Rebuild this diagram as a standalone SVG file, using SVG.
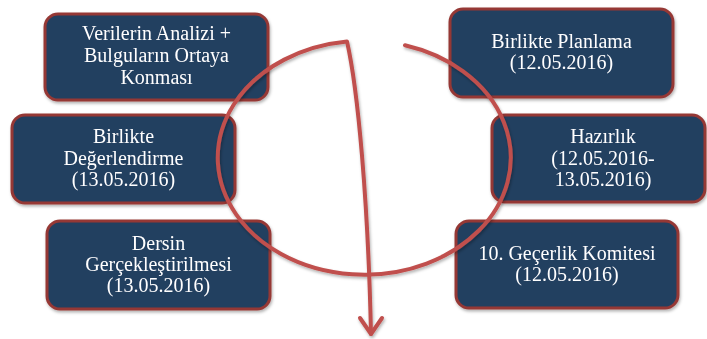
<svg xmlns="http://www.w3.org/2000/svg" width="707" height="339" viewBox="0 0 707 339">
  <defs>
    <filter id="shadow" x="-10%" y="-10%" width="120%" height="130%">
      <feDropShadow dx="1" dy="2" stdDeviation="1.5" flood-color="#000" flood-opacity="0.3"/>
    </filter>
    <style>
      .box { fill: #243F60; stroke: #953735; stroke-width: 3; }
      .label { fill: #FFFFFF; font-family: "Liberation Serif", "Times New Roman", serif; font-size: 20px; text-anchor: middle; }
      .cycle { fill: none; stroke: #C0504D; stroke-width: 4; stroke-linecap: round; stroke-linejoin: round; }
    </style>
  </defs>
  <rect width="707" height="339" fill="#FFFFFF"/>

  <g id="node-analiz" filter="url(#shadow)">
    <rect class="box" x="45" y="14" width="223" height="86" rx="13"/>
    <text class="label" x="156.5"><tspan x="156.5" y="40">Verilerin Analizi +</tspan><tspan x="156.5" y="62">Bulguların Ortaya</tspan><tspan x="156.5" y="84">Konması</tspan></text>
  </g>

  <g id="node-planlama" filter="url(#shadow)">
    <rect class="box" x="450" y="9" width="223" height="88" rx="13"/>
    <text class="label"><tspan x="561.5" y="48">Birlikte Planlama</tspan><tspan x="561.5" y="69">(12.05.2016)</tspan></text>
  </g>

  <g id="node-degerlendirme" filter="url(#shadow)">
    <rect class="box" x="12" y="115" width="223" height="88" rx="13"/>
    <text class="label"><tspan x="123.5" y="143">Birlikte</tspan><tspan x="123.5" y="164.5">Değerlendirme</tspan><tspan x="123.5" y="186">(13.05.2016)</tspan></text>
  </g>

  <g id="node-hazirlik" filter="url(#shadow)">
    <rect class="box" x="492" y="115" width="213" height="87" rx="13"/>
    <text class="label"><tspan x="603" y="143">Hazırlık</tspan><tspan x="603" y="164.5">(12.05.2016-</tspan><tspan x="603" y="186">13.05.2016)</tspan></text>
  </g>

  <g id="node-dersin" filter="url(#shadow)">
    <rect class="box" x="47" y="221" width="223" height="88" rx="13"/>
    <text class="label"><tspan x="158.5" y="250">Dersin</tspan><tspan x="158.5" y="271">Gerçekleştirilmesi</tspan><tspan x="158.5" y="292">(13.05.2016)</tspan></text>
  </g>

  <g id="node-komite" filter="url(#shadow)">
    <rect class="box" x="456" y="221" width="222" height="87" rx="13"/>
    <text class="label"><tspan x="567" y="260">10. Geçerlik Komitesi</tspan><tspan x="567" y="281">(12.05.2016)</tspan></text>
  </g>

  <g id="connectors" filter="url(#shadow)">
    <path class="cycle" d="M405,45.3 A146.5,117 0 1 1 347,41.5 C358,90 368,200 371,334"/>
    <path class="cycle" d="M360,318 L371,334 L382,318"/>
  </g>
</svg>
